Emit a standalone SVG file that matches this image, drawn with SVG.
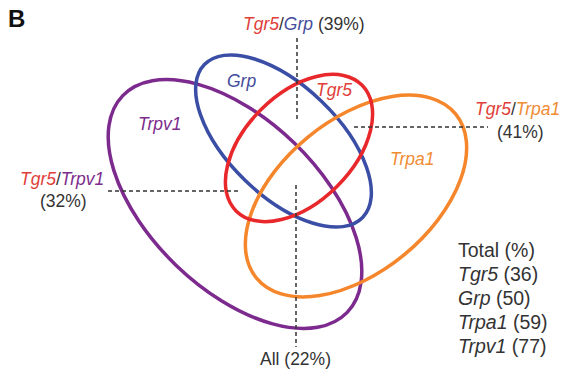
<svg xmlns="http://www.w3.org/2000/svg" width="567" height="373" viewBox="0 0 567 373">
<style>
  .el{fill:none;stroke-width:3.5}
  .dash{stroke:#333;stroke-width:1.5;stroke-dasharray:4 3;fill:none}
  text{font-family:"Liberation Sans",Arial,sans-serif;fill:#333}
  .lab{font-size:17.5px;font-style:italic}
  .pct{font-size:17.5px}
  .leg{font-size:19.5px}
  .i{font-style:italic}
  .red{fill:#e0403a}
  .blue{fill:#454d9c}
  .org{fill:#f08c34}
  .pur{fill:#7d2d8c}
</style>
<rect width="567" height="373" fill="#fff"/>
<text x="8" y="27" style="font-size:24px;font-weight:bold;fill:#111">B</text>
<g id="trpv1"><ellipse class="el" cx="235" cy="204" rx="156" ry="85" transform="rotate(44 235 204)" stroke="#7d2a8e"/><text class="lab pur" x="138" y="130">Trpv1</text></g>
<g id="grp"><ellipse class="el" cx="283.5" cy="141" rx="110" ry="55" transform="rotate(44 283.5 141)" stroke="#3b4ea6"/><text class="lab blue" x="227" y="87">Grp</text></g>
<g id="trpa1"><ellipse class="el" cx="356" cy="196" rx="129" ry="76" transform="rotate(-39.5 356 196)" stroke="#f5862b"/><text class="lab org" x="390" y="165">Trpa1</text></g>
<g id="tgr5"><ellipse class="el" cx="299" cy="148" rx="89" ry="54" transform="rotate(-45 299 148)" stroke="#e8282b"/><text class="lab red" x="316" y="96">Tgr5</text></g>
<g id="connectors">
  <line class="dash" x1="297" y1="38" x2="297" y2="119"/>
  <line class="dash" x1="354" y1="127" x2="488" y2="127"/>
  <line class="dash" x1="108" y1="191" x2="241" y2="191"/>
  <line class="dash" x1="296" y1="185" x2="296" y2="347"/>
</g>
<g id="label-tgr5-grp"><text class="pct" x="243" y="30"><tspan class="i red">Tgr5</tspan>/<tspan class="i blue">Grp</tspan> (39%)</text></g>
<g id="label-tgr5-trpa1"><text class="pct" x="475" y="115"><tspan class="i red">Tgr5</tspan>/<tspan class="i org">Trpa1</tspan></text><text class="pct" x="497" y="138">(41%)</text></g>
<g id="label-tgr5-trpv1"><text class="pct" x="20" y="185"><tspan class="i red">Tgr5</tspan>/<tspan class="i pur">Trpv1</tspan></text><text class="pct" x="40" y="207">(32%)</text></g>
<g id="label-all"><text class="pct" x="260" y="365">All (22%)</text></g>
<g id="legend">
  <text class="leg" x="458" y="257">Total (%)</text>
  <text class="leg" x="458" y="281"><tspan class="i">Tgr5</tspan> (36)</text>
  <text class="leg" x="458" y="305"><tspan class="i">Grp</tspan> (50)</text>
  <text class="leg" x="458" y="329"><tspan class="i">Trpa1</tspan> (59)</text>
  <text class="leg" x="458" y="353"><tspan class="i">Trpv1</tspan> (77)</text>
</g>
</svg>
